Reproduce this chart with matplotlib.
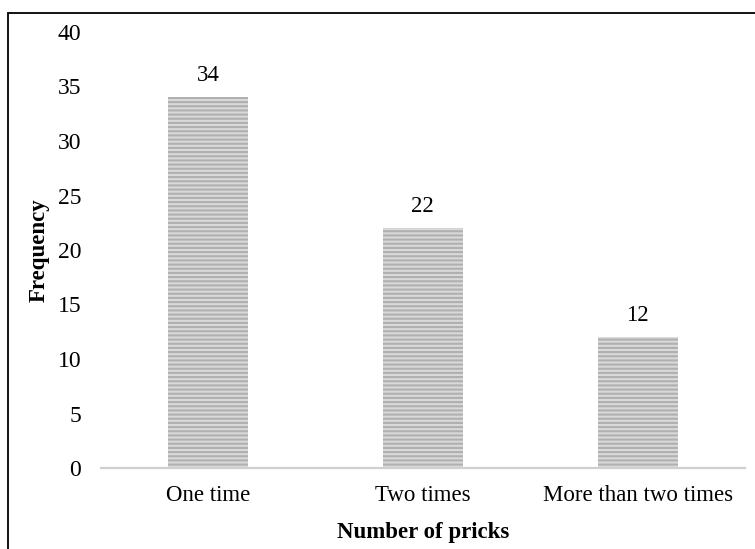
import matplotlib
matplotlib.use("Agg")
import matplotlib.pyplot as plt
from matplotlib.patches import Rectangle

categories = ["One time", "Two times", "More than two times"]
frequency = [34, 22, 12]
y_ticks = [0, 5, 10, 15, 20, 25, 30, 35, 40]

plt.rcParams['font.family'] = ['Liberation Serif', 'DejaVu Serif']
plt.rcParams['hatch.linewidth'] = 1.5

W, H = 755, 549
fig = plt.figure(figsize=(W / 100, H / 100), dpi=100)

# outer frame (runs off the right and bottom edges)
fig.patches.append(Rectangle((8 / W, -0.05), 1.2, (H - 12.5) / H + 0.05,
                             transform=fig.transFigure, fill=False,
                             edgecolor='black', linewidth=1.3, zorder=0))

ax = fig.add_axes([100.75 / W, 1 - 468 / H, (745 - 100.75) / W, (468 - 32) / H])

x = range(len(categories))
bars = ax.bar(x, frequency, width=0.373, color='#d9d9d9', edgecolor='#b0b0b0',
              hatch='----', linewidth=0)

for xi, v in zip(x, frequency):
    ax.annotate(str(v), (xi, v), xytext=(0, 8), textcoords='offset points',
                ha='center', va='bottom', fontsize=16.5)

ax.set_xlim(-0.5, 2.5)
ax.set_ylim(0, 40)
ax.set_yticks(y_ticks)
ax.set_xticks(list(x))
ax.set_xticklabels(categories)
ax.tick_params(axis='both', length=0, labelsize=16.5)
ax.tick_params(axis='y', pad=14, labelsize=17)
ax.tick_params(axis='x', pad=12)

for s in ['top', 'right', 'left']:
    ax.spines[s].set_visible(False)
ax.spines['bottom'].set_color('#d0d0d0')
ax.spines['bottom'].set_linewidth(1.6)

ax.set_xlabel("Number of pricks", fontsize=16.5, fontweight='bold', labelpad=12)
ax.set_ylabel("Frequency", fontsize=16.5, fontweight='bold', labelpad=6)

fig.savefig("out.png", dpi=100)
